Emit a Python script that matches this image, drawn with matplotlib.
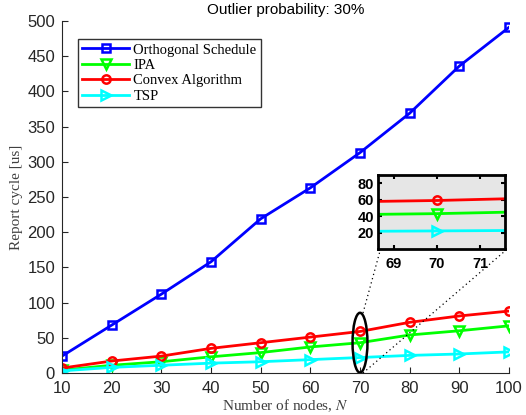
import matplotlib
matplotlib.use("Agg")
import matplotlib.pyplot as plt
from matplotlib.patches import Ellipse
from matplotlib.lines import Line2D

plt.rcParams["mathtext.fontset"] = "stix"

N = [10, 20, 30, 40, 50, 60, 70, 80, 90, 100]
orthogonal = [24, 68, 112, 158, 219, 263, 313, 369, 436, 491]
ipa = [4, 11, 16, 23, 29, 37, 43, 54, 60, 67]
convex = [7, 17, 24, 35, 43, 51, 59, 72, 81, 88]
tsp = [3, 8, 11, 14, 16, 19, 22, 25, 27, 30]

series = [
    ("Orthogonal Schedule", orthogonal, (0, 0, 1), "s", 5.5),
    ("IPA", ipa, (0, 1, 0), "v", 7),
    ("Convex Algorithm", convex, (1, 0, 0), "o", 6),
    ("TSP", tsp, (0, 1, 1), ">", 7.5),
]

W, H = 526, 415
fig = plt.figure(figsize=(W / 100, H / 100), dpi=100)
ax = fig.add_axes([62 / W, 1 - 373 / H, (509 - 62) / W, (373 - 21) / H])

tick_col = "#262626"
for name, vals, col, mk, ms in series:
    ax.plot(N, vals, color=col, lw=2, marker=mk, ms=ms, mfc="none",
            mew=1.8, label=name)

ax.set_xlim(10, 100)
ax.set_ylim(0, 500)
ax.set_xticks(N)
ax.set_yticks(range(0, 501, 50))
for s in ["top", "right"]:
    ax.spines[s].set_visible(False)
for s in ["left", "bottom"]:
    ax.spines[s].set_color(tick_col)
    ax.spines[s].set_linewidth(0.8)
ax.tick_params(direction="in", length=4, colors=tick_col, labelsize=12,
               width=0.8)
ax.tick_params(axis="y", pad=5)
ax.tick_params(axis="x", pad=6)
for lab in ax.get_xticklabels() + ax.get_yticklabels():
    lab.set_family("Liberation Sans")

ax.set_xlabel("Number of nodes, $N$", family="Liberation Serif", fontsize=11,
              color="#404040", labelpad=1)
ax.set_ylabel("Report cycle [us]", family="Liberation Serif", fontsize=11,
              color="#404040", labelpad=3)
ax.set_title("Outlier probability: 30%", family="Liberation Sans",
             fontsize=11, pad=5)

leg = ax.legend(loc="upper left", bbox_to_anchor=(16 / 447, 1 - 18 / 352),
                prop={"family": "Liberation Serif", "size": 10.5},
                frameon=True, fancybox=False, edgecolor="black",
                borderpad=0.3, labelspacing=0.15, handlelength=3.2,
                handletextpad=0.3, borderaxespad=0)
leg.get_frame().set_linewidth(1.0)

# ellipse around N=70
ell = Ellipse((70, 43), 3.0, 85, fill=False, edgecolor="black", lw=1.8,
              zorder=5)
ax.add_patch(ell)

# inset
ins = fig.add_axes([378 / W, 1 - 249 / H, (505 - 378) / W, (249 - 175) / H])
ins.set_facecolor("#e6e6e6")
for name, vals, col, mk, ms in series:
    ins.plot(N, vals, color=col, lw=2, marker=mk, ms=ms, mfc="none", mew=1.8)
ins.set_xlim(68.63, 71.58)
ins.set_ylim(0, 90)
ins.set_xticks([69, 70, 71])
ins.set_yticks([20, 40, 60, 80])
for s in ins.spines.values():
    s.set_linewidth(2)
ins.tick_params(direction="in", length=3, width=1.5, labelsize=10.5,
                top=True, right=True, pad=3)
ins.tick_params(axis="x", pad=6)
for lab in ins.get_xticklabels() + ins.get_yticklabels():
    lab.set_family("Liberation Sans")
    lab.set_fontweight("bold")

# dotted connectors (figure pixel coords)
def fp(x, y):
    return (x / W, 1 - y / H)

for (x0, y0), (x1, y1) in [((363, 313), (380, 251)), ((363, 373), (505, 251))]:
    a, b = fp(x0, y0), fp(x1, y1)
    fig.add_artist(Line2D([a[0], b[0]], [a[1], b[1]], transform=fig.transFigure,
                          color="black", lw=0.9, ls=(0, (1, 2.5))))

fig.savefig("out.png", dpi=100)
